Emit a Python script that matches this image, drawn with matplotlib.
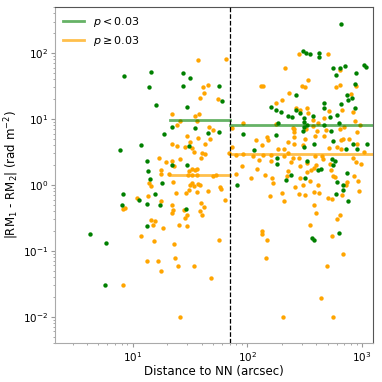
import matplotlib
matplotlib.use("Agg")
import matplotlib.pyplot as plt
import numpy as np

# (distance to NN [arcsec], |RM1 - RM2| [rad m^-2])
green_points = [
    (4.2, 0.18), (5.9, 0.13), (5.7, 0.030), (8.4, 44), (7.8, 3.4), (8.2, 0.72), (8.1, 0.49), (11.4, 0.59),
    (14.3, 52), (13.9, 31), (16.1, 16), (27.6, 49), (27.6, 32), (31.6, 42), (30, 15), (18.9, 5.9),
    (11.8, 4.0), (22, 7.6), (35, 7.2), (57, 32), (60, 19), (45, 6.1), (57, 6.4), (13.4, 2.3),
    (13.5, 1.6), (14.1, 1.23), (18, 1.06), (15.5, 0.73), (13.3, 0.51), (17.3, 0.49), (13.2, 0.24),
    (29.3, 0.43), (29.5, 2.0), (22, 2.0), (31, 3.9), (81, 0.98), (114, 3.4), (92, 6.0),
    (660, 275), (307, 108), (324, 99), (353, 97), (423, 101), (423, 88), (560, 60), (640, 60),
    (707, 63), (590, 47), (890, 50), (1040, 65), (1080, 61), (870, 34), (740, 23), (815, 21),
    (760, 19.4), (267, 23), (162, 15), (178, 13.5), (198, 12.9), (226, 11.2), (243, 10.7), (290, 12.2),
    (267, 13.7), (313, 10.5), (372, 11), (464, 17.3), (467, 14.7), (660, 16.9), (865, 14.8), (603, 11.5),
    (520, 10.8), (313, 8.9), (334, 8.1), (183, 8.6), (303, 6.6), (309, 7.5), (464, 8.0), (534, 6.6),
    (635, 8.8), (179, 5.8), (377, 4.1), (560, 4.6), (835, 4.1), (1100, 4.1), (311, 3.8), (726, 3.5),
    (905, 3.55), (181, 2.6), (181, 2.08), (328, 2.3), (541, 2.45), (582, 2.33), (552, 2.03), (409, 1.69),
    (437, 1.73), (240, 1.43), (318, 1.28), (745, 1.54), (217, 1.19), (603, 1.11), (680, 0.99), (680, 0.84),
    (598, 0.73), (760, 0.56), (627, 0.185), (367, 0.157), (383, 0.147),
]

orange_points = [
    (8.3, 0.030), (8.2, 0.43), (8.6, 0.44), (11.0, 0.63),
    (37, 78), (65, 82), (41, 31), (45, 33), (42, 24.5), (38.5, 21), (55, 20), (22, 12), (35, 11.2),
    (38, 12), (26, 9.3), (36, 9.3), (24.5, 8.0), (30, 5.5), (37, 5.2), (31.5, 4.5), (46, 7.6), (50, 6.8),
    (47, 5.0), (43, 4.2), (74, 7.2), (92, 8.6), (119, 4.8), (22, 4.2), (24.5, 3.9), (28.5, 3.8), (33, 3.6),
    (34, 3.1), (40, 3.0), (42.5, 2.9), (39, 2.6), (25.6, 2.5), (16.8, 2.6), (19.6, 2.2), (21.8, 2.3),
    (23, 1.94), (17.6, 1.67), (17.5, 1.47), (20.7, 1.45), (13.9, 1.06), (14.4, 0.95), (22.3, 1.11),
    (31, 1.65), (33, 1.73), (35, 1.69), (36, 1.73), (30.5, 1.43), (33, 1.43), (36, 1.43), (31.3, 1.0),
    (32.6, 1.08), (34, 0.97), (37, 1.02), (38.3, 0.99), (30.7, 0.84), (36.7, 0.77), (29, 0.75), (24, 0.75),
    (45, 0.80), (58, 0.94), (58.5, 0.88), (64, 0.59), (39.6, 0.54), (41.7, 0.47), (21.8, 0.50), (22.4, 0.41),
    (22, 0.38), (28, 0.41), (28.5, 0.32), (29.5, 0.35), (38.5, 0.40), (40, 0.35), (17.6, 0.56), (13.5, 0.67),
    (14.5, 0.29), (15.6, 0.285), (15, 0.245), (18.2, 0.225), (25.3, 0.245), (29.5, 0.235), (50, 1.38),
    (53, 1.43), (74, 3.7), (69, 3.0), (80, 2.85), (92, 2.9), (111, 2.75), (90, 1.92), (79, 1.45), (108, 1.28),
    (11.7, 0.17), (13.4, 0.070), (16.5, 0.070), (17.5, 0.049), (15.4, 0.14), (23, 0.128), (23.5, 0.079),
    (24.8, 0.059), (25.6, 0.0099), (34.4, 0.059), (57, 0.147), (48.6, 0.039),
    (283, 97), (506, 97), (213, 60), (132, 32), (138, 32), (231, 24.5), (299, 32), (318, 31), (339, 39),
    (644, 55), (590, 31), (644, 33), (892, 32), (797, 24), (179, 17.7), (199, 19.4), (267, 14.4), (287, 13.5),
    (330, 14.4), (339, 12.5), (373, 9.7), (414, 8.8), (470, 10.3), (517, 13.4), (666, 13.7), (830, 12.9),
    (869, 9.3), (961, 8.2), (176, 8.4), (250, 7.3), (256, 7.0), (255, 6.4), (324, 7.0), (370, 7.8),
    (401, 6.5), (486, 6.8), (644, 7.0), (697, 7.6), (899, 6.4), (149, 5.3), (150, 4.8), (224, 4.5),
    (253, 5.3), (318, 4.9), (390, 5.5), (467, 5.5), (661, 4.8), (688, 4.9), (771, 5.0), (256, 4.2),
    (307, 4.0), (133, 4.0), (911, 4.2), (183, 3.5), (207, 3.5), (513, 3.6), (606, 3.8), (661, 3.5),
    (227, 3.0), (136, 2.8), (161, 2.8), (207, 2.75), (250, 2.6), (279, 2.6), (390, 2.75), (443, 2.7),
    (840, 2.6), (1040, 3.1), (125, 2.4), (161, 2.33), (240, 2.2), (334, 2.13), (452, 2.45), (527, 2.08),
    (881, 2.25), (980, 2.08), (285, 1.94), (121, 1.77), (224, 1.65), (396, 1.99), (383, 1.81), (362, 1.69),
    (330, 1.57), (221, 1.37), (143, 1.43), (287, 1.25), (348, 1.14), (537, 1.69), (552, 1.34), (579, 1.31),
    (847, 1.34), (165, 1.25), (168, 1.08), (260, 0.94), (307, 1.01), (409, 1.01), (741, 1.11), (727, 1.01),
    (929, 1.16), (948, 0.81), (201, 0.76), (279, 0.72), (318, 0.71), (383, 0.78), (417, 0.76), (670, 0.70),
    (157, 0.69), (208, 0.56), (503, 0.64), (549, 0.61), (383, 0.50), (398, 0.37), (644, 0.35), (603, 0.30),
    (351, 0.245), (134, 0.20), (134, 0.178), (147, 0.147), (146, 0.078), (541, 0.169), (679, 0.088),
    (496, 0.059), (437, 0.0196), (206, 0.0098), (562, 0.0098),
]

# median levels per distance bin
split_dist = 70
bin_edges_left = [21, 70]
bin_edges_right = [70, 1250]
green_medians = [9.5, 8.2]
orange_medians = [1.42, 2.95]

g = np.array(green_points)
o = np.array(orange_points)

fig = plt.figure(figsize=(3.82, 3.82), dpi=100)
ax = fig.add_axes([0.144, 0.102, 0.833, 0.880])

ax.scatter(o[:, 0], o[:, 1], s=10, color='orange', linewidths=0, zorder=2)
ax.scatter(g[:, 0], g[:, 1], s=10, color='green', linewidths=0, zorder=3)

ax.plot(bin_edges_left, [green_medians[0]] * 2, color='green', lw=2, alpha=0.6, label=r'$p < 0.03$', zorder=4)
ax.plot(bin_edges_right, [green_medians[1]] * 2, color='green', lw=2, alpha=0.6, zorder=4)
ax.plot(bin_edges_left, [orange_medians[0]] * 2, color='orange', lw=2, alpha=0.7, label=r'$p \geq 0.03$', zorder=4)
ax.plot(bin_edges_right, [orange_medians[1]] * 2, color='orange', lw=2, alpha=0.7, zorder=4)

ax.axvline(split_dist, color='black', ls='--', lw=0.9, zorder=5)

ax.set_xscale('log')
ax.set_yscale('log')
ax.set_xlim(2.1, 1250)
ax.set_ylim(0.004, 500)

ax.set_xlabel('Distance to NN (arcsec)', fontsize=8.5, labelpad=1)
ax.set_ylabel(r'|RM$_1$ - RM$_2$| (rad m$^{-2}$)', fontsize=8.5, labelpad=1)
ax.tick_params(which='both', labelsize=7.5, color='#999999', pad=2)
ax.tick_params(which='major', length=3)
ax.tick_params(which='minor', length=1.5)

for s in ['left', 'bottom']:
    ax.spines[s].set_color('#aaaaaa')
for s in ['top', 'right']:
    ax.spines[s].set_color('#555555')
    ax.spines[s].set_linewidth(0.8)

ax.legend(loc='upper left', frameon=False, fontsize=8, handlelength=1.9, borderaxespad=0.3)

fig.savefig('out.png', dpi=100)
